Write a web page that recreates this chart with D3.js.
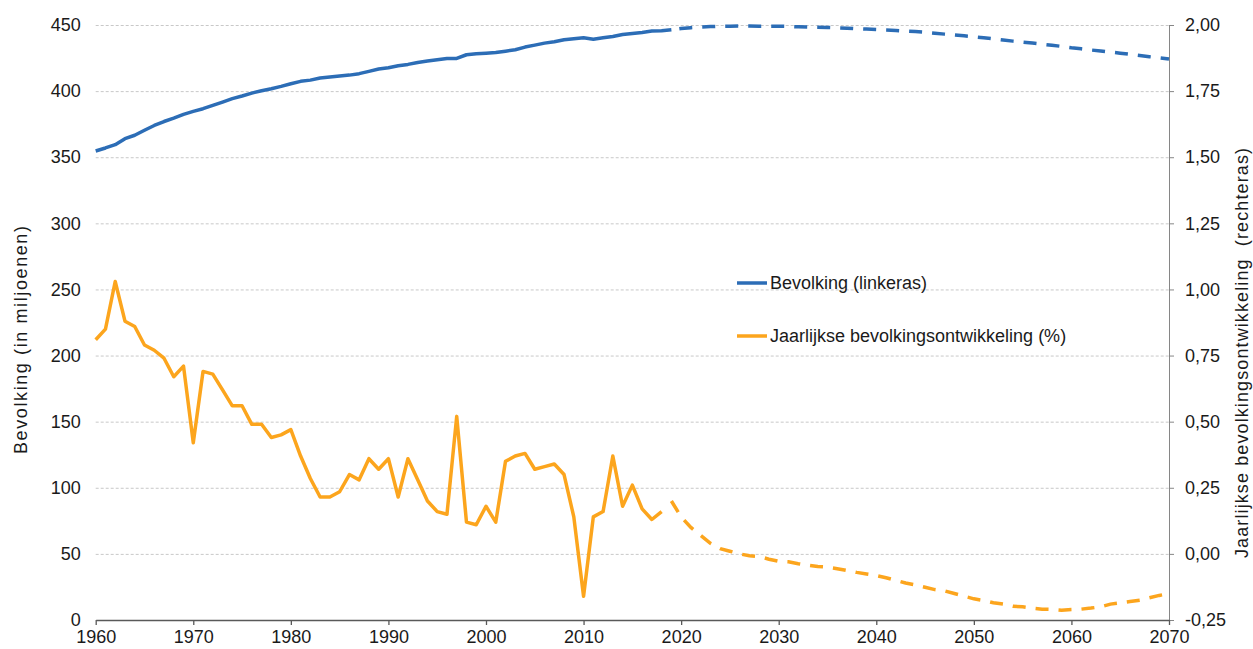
<html>
<head>
  <meta charset="utf-8">
  <title>Bevolking</title>
  <script src="https://d3js.org/d3.v7.min.js"></script>
  <style>
    body {
      margin: 0;
      background: #fff;
      font-family: "Liberation Sans", Arial, sans-serif;
    }

    .grid line {
      stroke: #c8c8c8;
      stroke-dasharray: 3, 2;
    }

    .axis text {
      font-size: 18px;
      fill: #1a1a1a;
    }
  </style>
</head>

<body>
  <div id="chart"></div>

  <script>
    // bevolking in miljoenen (linkeras), jaarlijkse groei in % (rechteras)
    var yearsHist = d3.range(1960, 2020);   // 1960 - 2019
    var popHist = [
      354.7, 357, 359.5, 364, 366.6, 370.4, 374, 377, 379.6, 382.4,
      384.7, 386.7, 389.2, 391.7, 394.3, 396.3, 398.5, 400.3, 401.8, 403.6,
      405.6, 407.4, 408.3, 409.9, 410.6, 411.4, 412.1, 413.2, 414.9, 416.7,
      417.7, 419.2, 420.2, 421.7, 422.7, 423.7, 424.7, 424.7, 427.5, 428.3,
      428.7, 429.2, 430.2, 431.3, 433.3, 434.8, 436.3, 437.3, 438.8, 439.6,
      440.3, 439.3, 440.3, 441.3, 442.8, 443.6, 444.4, 445.4, 445.6, 446.4
    ];

    var yearsProj = d3.range(2019, 2071);   // 2019 - 2070
    var popProj = [
      446.4, 447.4, 448, 448.5, 448.8, 449, 449.1, 449.2, 449.2, 449.1, 449.1, 449.1,
      448.9, 448.6, 448.4, 448.3, 448.2,
      447.9, 447.6, 447.2, 446.9, 446.6,
      446.2, 445.9, 445.4, 445, 444.5,
      443.8, 443.1, 442.4, 441.8, 441.1,
      440.3, 439.5, 438.7, 437.8, 437,
      436.3, 435.5, 434.7, 433.8, 432.8,
      432, 431.1, 430.3, 429.5, 428.7,
      427.8, 426.9, 426, 425.2, 424.3
    ];

    var yearsGrowthHist = d3.range(1960, 2019);   // 1960 - 2018
    var growthHist = [
      0.81, 0.85, 1.03, 0.88, 0.86, 0.79, 0.77, 0.74, 0.67, 0.71,
      0.42, 0.69, 0.68, 0.62, 0.56, 0.56, 0.49, 0.49, 0.44, 0.45,
      0.47, 0.37, 0.285, 0.215, 0.215, 0.235, 0.30, 0.28, 0.36, 0.32,
      0.36, 0.215, 0.36, 0.28, 0.20, 0.16, 0.15, 0.52, 0.12, 0.11,
      0.18, 0.12, 0.35, 0.37, 0.38, 0.32, 0.33, 0.34, 0.30, 0.14,
      -0.16, 0.14, 0.16, 0.37, 0.18, 0.26, 0.17, 0.13, 0.16
    ];

    var growthProj = [
      0.20, 0.14, 0.10, 0.07, 0.04, 0.02, 0.01, 0.00, -0.007, -0.01, -0.02, -0.028,
      -0.03, -0.037, -0.043, -0.048, -0.05,
      -0.056, -0.063, -0.07, -0.076, -0.082,
      -0.09, -0.10, -0.11, -0.117, -0.126,
      -0.135, -0.14, -0.15, -0.16, -0.17,
      -0.176, -0.185, -0.19, -0.198, -0.20,
      -0.205, -0.209, -0.21, -0.213, -0.21,
      -0.209, -0.205, -0.20, -0.19, -0.185,
      -0.18, -0.175, -0.166, -0.157, -0.15
    ];

    var leftTicks = d3.range(0, 451, 50);
    var rightTicks = [-0.25, 0, 0.25, 0.5, 0.75, 1, 1.25, 1.5, 1.75, 2];
    var xTicks = d3.range(1960, 2071, 10);

    var blue = "#2c6db6", orange = "#fca51d";

    var W = 1253, H = 649;
    // plot box (window.top is reserved, so other names)
    var pL = 95.7, pR = 1169, pT = 25, pB = 620;

    var x = d3.scaleLinear().domain([1960, 2070]).range([pL, pR]);
    var yL = d3.scaleLinear().domain([0, 450]).range([pB, pT]);
    var yR = d3.scaleLinear().domain([-0.25, 2]).range([pB, pT]);

    var svg = d3.select("#chart").append("svg")
      .attr("width", W)
      .attr("height", H);

    // gridlines
    svg.append("g")
      .attr("class", "grid")
      .attr("transform", "translate(" + pL + ",0)")
      .call(d3.axisLeft(yL).tickValues(leftTicks.slice(1)).tickSize(-(pR - pL)).tickFormat(""))
      .call(function (g) { g.select(".domain").remove(); });

    // left axis (labels only)
    svg.append("g")
      .attr("class", "axis")
      .attr("transform", "translate(" + pL + ",0)")
      .call(d3.axisLeft(yL).tickValues(leftTicks).tickSize(0).tickPadding(15))
      .call(function (g) {
        g.select(".domain").remove();
        g.selectAll("text").attr("font-family", "Liberation Sans, Arial, sans-serif");
      });

    // right axis, comma decimals and a plain minus
    var fmt = d3.format(".2f");
    svg.append("g")
      .attr("class", "axis")
      .attr("transform", "translate(" + pR + ",0)")
      .call(d3.axisRight(yR).tickValues(rightTicks).tickSize(5).tickPadding(11).tickSizeOuter(0)
        .tickFormat(function (d) { return fmt(d).replace(".", ",").replace("\u2212", "-"); }))
      .call(function (g) {
        g.selectAll("line, .domain").attr("stroke", "#868686");
        g.selectAll("text").attr("font-family", "Liberation Sans, Arial, sans-serif");
      });

    // x axis
    svg.append("g")
      .attr("class", "axis")
      .attr("transform", "translate(0," + pB + ")")
      .call(d3.axisBottom(x).tickValues(xTicks).tickSize(5).tickPadding(5).tickFormat(d3.format("d")).tickSizeOuter(0))
      .call(function (g) {
        g.selectAll("line, .domain").attr("stroke", "#595959").attr("stroke-width", 1.3);
        g.selectAll("text").attr("font-family", "Liberation Sans, Arial, sans-serif");
      });

    // lines
    var lineL = d3.line().x(function (d) { return x(d[0]); }).y(function (d) { return yL(d[1]); });
    var lineR = d3.line().x(function (d) { return x(d[0]); }).y(function (d) { return yR(d[1]); });

    svg.append("path")
      .datum(d3.zip(yearsGrowthHist, growthHist))
      .attr("d", lineR)
      .attr("fill", "none").attr("stroke", orange).attr("stroke-width", 3.5)
      .attr("stroke-linejoin", "round");

    svg.append("path")
      .datum(d3.zip(yearsProj, growthProj))
      .attr("d", lineR)
      .attr("fill", "none").attr("stroke", orange).attr("stroke-width", 3.5)
      .attr("stroke-dasharray", "13,10");

    svg.append("path")
      .datum(d3.zip(yearsHist, popHist))
      .attr("d", lineL)
      .attr("fill", "none").attr("stroke", blue).attr("stroke-width", 3.5)
      .attr("stroke-linejoin", "round");

    svg.append("path")
      .datum(d3.zip(yearsProj, popProj))
      .attr("d", lineL)
      .attr("fill", "none").attr("stroke", blue).attr("stroke-width", 3.5)
      .attr("stroke-dasharray", "13,10")
      .attr("stroke-dashoffset", 13 + 10 - 8);

    // axis titles (spaced out a bit like the original)
    svg.append("text")
      .attr("transform", "translate(27,340) rotate(-90)")
      .attr("text-anchor", "middle")
      .attr("font-size", 18)
      .attr("fill", "#1a1a1a")
      .attr("textLength", 228)
      .attr("lengthAdjust", "spacing")
      .text("Bevolking (in miljoenen)");

    svg.append("text")
      .attr("transform", "translate(1248,353) rotate(-90)")
      .attr("text-anchor", "middle")
      .attr("font-size", 18)
      .attr("fill", "#1a1a1a")
      .attr("textLength", 410)
      .attr("lengthAdjust", "spacing")
      .style("white-space", "pre")
      .text("Jaarlijkse bevolkingsontwikkeling  (rechteras)");

    // legend
    var legend = [
      { label: "Bevolking (linkeras)", color: blue, y: 283 },
      { label: "Jaarlijkse bevolkingsontwikkeling (%)", color: orange, y: 336 }
    ];
    legend.forEach(function (l) {
      svg.append("line")
        .attr("x1", 737).attr("x2", 767).attr("y1", l.y).attr("y2", l.y)
        .attr("stroke", l.color).attr("stroke-width", 3.5);
      svg.append("text")
        .attr("x", 770).attr("y", l.y + 6)
        .attr("font-size", 18)
        .attr("fill", "#1a1a1a")
        .text(l.label);
    });
  </script>
</body>

</html>
